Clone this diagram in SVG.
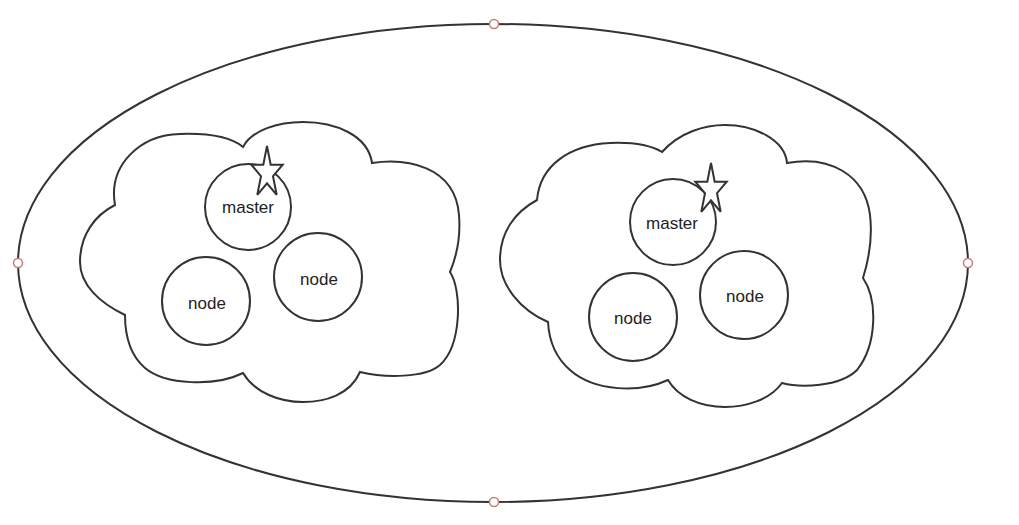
<svg xmlns="http://www.w3.org/2000/svg" width="1019" height="525" viewBox="0 0 1019 525">
<defs>
<style>
.ln{fill:#fff;stroke:#333;stroke-width:2}
.bd{fill:none;stroke:#333;stroke-width:2}
.hd{fill:#fff;stroke:#c77b7b;stroke-width:1.5}
.tx{font-family:"Liberation Sans",Arial,sans-serif;font-size:17px;fill:#222;text-anchor:middle}
</style>
<polygon id="star" points="0,-27 3.7,-8.3 15.7,-8.3 6,3.2 9.7,21.8 0,10.3 -9.7,21.8 -6,3.2 -15.7,-8.3 -3.7,-8.3" class="ln" stroke-linejoin="miter"/>
</defs>
<rect width="1019" height="525" fill="#fff"/>
<g id="cluster-boundary">
<ellipse cx="493" cy="263" rx="475" ry="239" class="bd"/>
</g>
<g id="cloud-left">
<path class="ln" d="M115,205 C108,165 140,135 180,134 C210,133 232,138 243,147 C252,130 278,122 303,122 C335,122 368,135 372,163 C405,158 455,165 459,215 C461,240 455,260 450,272 C462,290 462,345 440,365 C425,378 385,378 360,372 C350,395 325,402 303,402 C280,402 255,393 243,373 C215,387 165,385 145,368 C130,355 125,335 125,315 C100,303 80,285 80,262 C80,235 95,215 115,205 Z"/>
</g>
<g id="cloud-right">
<path class="ln" d="M537,200 C540,165 570,145 610,143 C635,142 652,146 662,152 C680,132 705,125 725,125 C755,125 785,140 787,163 C830,155 865,175 870,215 C873,240 868,262 863,278 C878,300 877,345 857,370 C840,387 800,388 782,383 C770,400 745,407 725,407 C700,407 678,397 668,380 C640,393 595,392 570,370 C555,357 549,340 548,322 C520,310 500,285 500,260 C500,232 515,212 537,200 Z"/>
</g>
<g id="left-master">
<circle cx="248" cy="207" r="43" class="ln"/>
<text x="248" y="213" class="tx">master</text>
<use href="#star" x="267" y="173"/>
</g>
<g id="left-node-1">
<circle cx="206" cy="301" r="44" class="ln"/>
<text x="207" y="309" class="tx">node</text>
</g>
<g id="left-node-2">
<circle cx="318" cy="277" r="44" class="ln"/>
<text x="319" y="285" class="tx">node</text>
</g>
<g id="right-master">
<circle cx="673" cy="222" r="43" class="ln"/>
<text x="672" y="229" class="tx">master</text>
<use href="#star" x="711" y="190"/>
</g>
<g id="right-node-1">
<circle cx="633" cy="317" r="44" class="ln"/>
<text x="633" y="324" class="tx">node</text>
</g>
<g id="right-node-2">
<circle cx="744" cy="295" r="44" class="ln"/>
<text x="745" y="302" class="tx">node</text>
</g>
<g id="connectors"></g>
<g id="handles">
<circle cx="494" cy="24" r="4.5" class="hd"/>
<circle cx="18" cy="263" r="4.5" class="hd"/>
<circle cx="968" cy="263" r="4.5" class="hd"/>
<circle cx="494" cy="502" r="4.5" class="hd"/>
</g>
</svg>
